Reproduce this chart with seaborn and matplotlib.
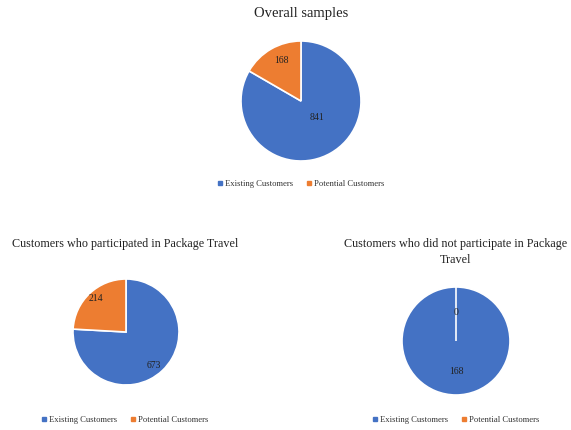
import matplotlib.pyplot as plt
import seaborn as sns
from matplotlib.lines import Line2D

sns.set_style("white")
plt.rcParams["font.family"] = ["Liberation Serif", "DejaVu Serif"]

categories = ["Existing Customers", "Potential Customers"]
colors = ["#4472C4", "#ED7D31"]

overall = [841, 168]
participated = [673, 214]
not_participated = [168, 0]

titles = ["Overall samples",
          "Customers who participated in Package Travel",
          "Customers who did not participate in Package\nTravel"]

W, H = 571, 430
fig = plt.figure(figsize=(W / 100, H / 100), dpi=100)

# pie centre (px), radius (px), title y (px), legend y (px), title x (px), title size
layout = [
    ((301, 101), 60, 13, 184, 301, 10.5),
    ((126, 332), 53, 244, 420, 125, 8.7),
    ((456, 341), 54, 252, 420, 456, 8.7),
]
# label offsets as fraction of radius (x, y) for [existing, potential]
label_pos = [
    [(0.27, -0.27), (-0.32, 0.67)],
    [(0.53, -0.64), (-0.57, 0.64)],
    [(0.0, -0.57), (0.0, 0.52)],
]

for values, title, (c, r, ty, ly, tx, ts), lp in zip(
        [overall, participated, not_participated], titles, layout, label_pos):
    cx, cy = c
    ax = fig.add_axes([(cx - r) / W, (H - cy - r) / H, 2 * r / W, 2 * r / H])
    ax.pie(values, colors=colors, startangle=90, counterclock=False,
           wedgeprops=dict(edgecolor="white", linewidth=1.2))
    ax.set_xlim(-1, 1)
    ax.set_ylim(-1, 1)
    for v, (px, py) in zip(values, lp):
        ax.text(px, py, str(v), ha="center", va="center", fontsize=7, color="#222222")
    fig.text(tx / W, 1 - ty / H, title, ha="center", va="center",
             fontsize=ts, color="#222222", linespacing=1.4)
    handles = [Line2D([], [], marker="s", linestyle="", markersize=2.5,
                      markerfacecolor=col, markeredgecolor=col) for col in colors]
    fig.legend(handles, categories, loc="center", bbox_to_anchor=(tx / W, 1 - ly / H),
               ncol=2, frameon=False, fontsize=6.2, handlelength=0.6,
               handletextpad=0.3, columnspacing=1.5, labelcolor="#333333")

fig.savefig("out.png", dpi=100)
